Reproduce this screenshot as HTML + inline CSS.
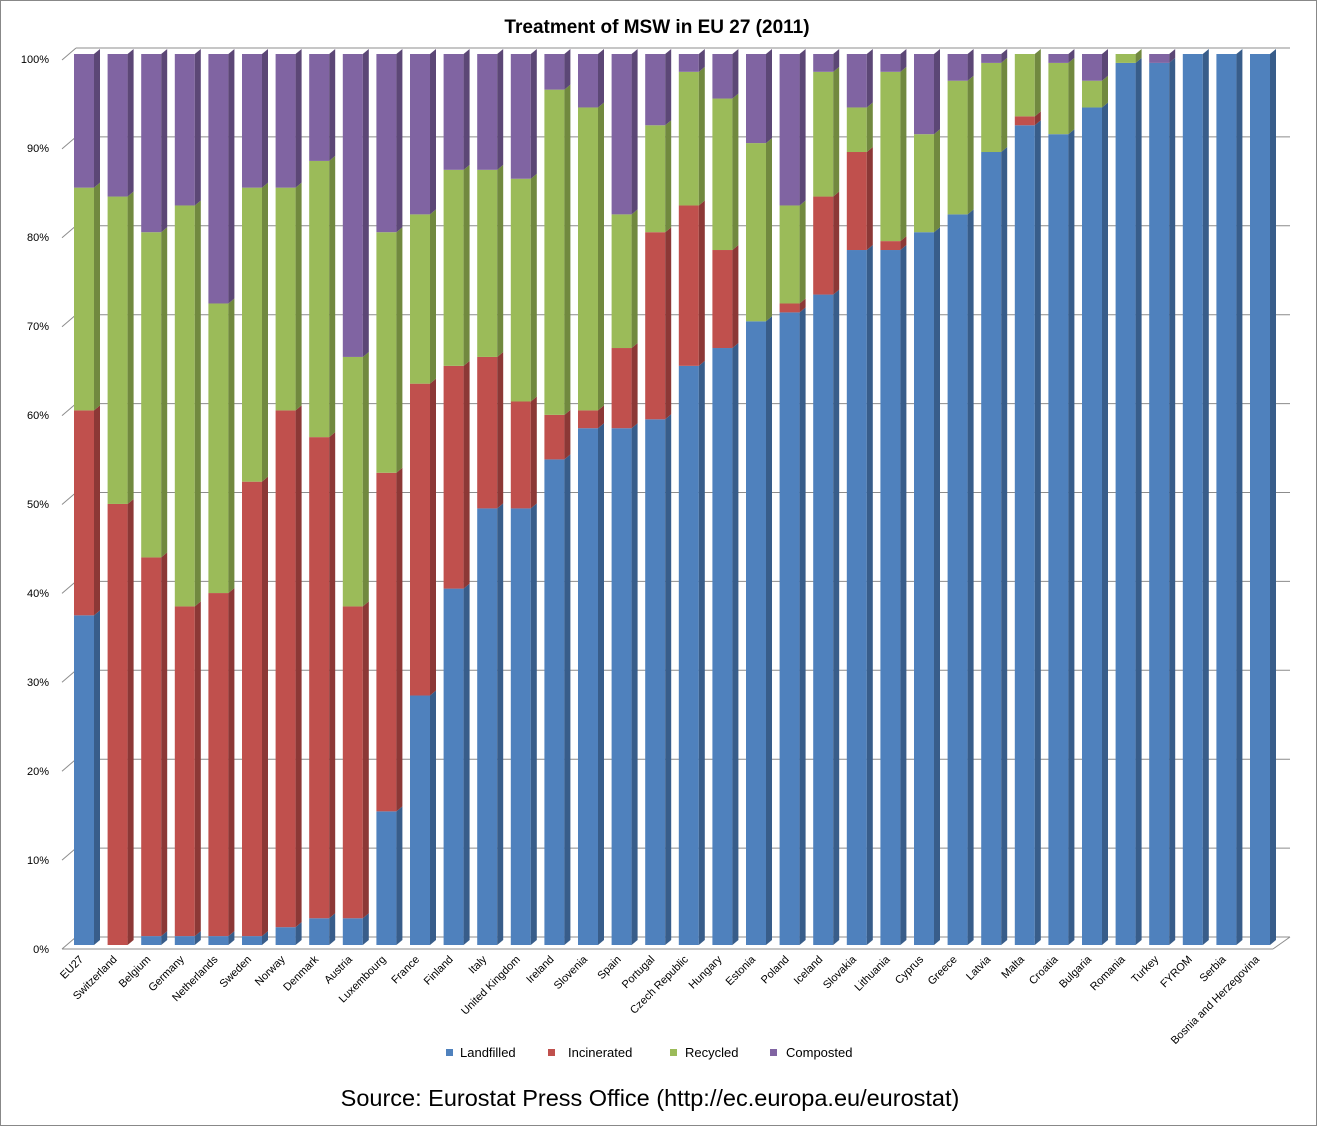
<!DOCTYPE html>
<html><head><meta charset="utf-8"><style>
body{margin:0;background:#fff;}
svg{display:block;font-family:"Liberation Sans",sans-serif;}
</style></head><body>
<svg id="s" width="1317" height="1126" xmlns="http://www.w3.org/2000/svg">
<rect x="0.5" y="0.5" width="1316" height="1125" fill="#fff" stroke="#888"/>
<text x="657" y="33" text-anchor="middle" font-size="19" font-weight="bold">Treatment of MSW in EU 27 (2011)</text>
<g id="grid" stroke="#8c8c8c" stroke-width="1" fill="none"></g>
<g id="bars"></g>
<g font-size="11" text-anchor="end">
<text x="49" y="953">0%</text><text x="49" y="864">10%</text><text x="49" y="775">20%</text><text x="49" y="686">30%</text><text x="49" y="597">40%</text><text x="49" y="508">50%</text><text x="49" y="419">60%</text><text x="49" y="330">70%</text><text x="49" y="241">80%</text><text x="49" y="152">90%</text><text x="49" y="63">100%</text>
</g>
<g font-size="11" text-anchor="end">
<text transform="translate(84,960) rotate(-45)">EU27</text>
<text transform="translate(117.6,960) rotate(-45)">Switzerland</text>
<text transform="translate(151.2,960) rotate(-45)">Belgium</text>
<text transform="translate(184.8,960) rotate(-45)">Germany</text>
<text transform="translate(218.4,960) rotate(-45)">Netherlands</text>
<text transform="translate(252,960) rotate(-45)">Sweden</text>
<text transform="translate(285.6,960) rotate(-45)">Norway</text>
<text transform="translate(319.2,960) rotate(-45)">Denmark</text>
<text transform="translate(352.8,960) rotate(-45)">Austria</text>
<text transform="translate(386.4,960) rotate(-45)">Luxembourg</text>
<text transform="translate(420,960) rotate(-45)">France</text>
<text transform="translate(453.6,960) rotate(-45)">Finland</text>
<text transform="translate(487.2,960) rotate(-45)">Italy</text>
<text transform="translate(520.8,960) rotate(-45)">United Kingdom</text>
<text transform="translate(554.4,960) rotate(-45)">Ireland</text>
<text transform="translate(588,960) rotate(-45)">Slovenia</text>
<text transform="translate(621.6,960) rotate(-45)">Spain</text>
<text transform="translate(655.2,960) rotate(-45)">Portugal</text>
<text transform="translate(688.8,960) rotate(-45)">Czech Republic</text>
<text transform="translate(722.4,960) rotate(-45)">Hungary</text>
<text transform="translate(756,960) rotate(-45)">Estonia</text>
<text transform="translate(789.6,960) rotate(-45)">Poland</text>
<text transform="translate(823.2,960) rotate(-45)">Iceland</text>
<text transform="translate(856.8,960) rotate(-45)">Slovakia</text>
<text transform="translate(890.4,960) rotate(-45)">Lithuania</text>
<text transform="translate(924,960) rotate(-45)">Cyprus</text>
<text transform="translate(957.6,960) rotate(-45)">Greece</text>
<text transform="translate(991.2,960) rotate(-45)">Latvia</text>
<text transform="translate(1024.8,960) rotate(-45)">Malta</text>
<text transform="translate(1058.4,960) rotate(-45)">Croatia</text>
<text transform="translate(1092,960) rotate(-45)">Bulgaria</text>
<text transform="translate(1125.6,960) rotate(-45)">Romania</text>
<text transform="translate(1159.2,960) rotate(-45)">Turkey</text>
<text transform="translate(1192.8,960) rotate(-45)">FYROM</text>
<text transform="translate(1226.4,960) rotate(-45)">Serbia</text>
<text transform="translate(1260,960) rotate(-45)">Bosnia and Herzegovina</text>
</g>
<g font-size="13">
<rect x="446" y="1049" width="7" height="7" fill="#4F81BD"/><text x="460" y="1057">Landfilled</text>
<rect x="548" y="1049" width="7" height="7" fill="#C0504D"/><text x="568" y="1057">Incinerated</text>
<rect x="670" y="1049" width="7" height="7" fill="#9BBB59"/><text x="685" y="1057">Recycled</text>
<rect x="770" y="1049" width="7" height="7" fill="#8064A2"/><text x="786" y="1057">Composted</text>
</g>
<text x="650" y="1106" text-anchor="middle" font-size="23.5">Source: Eurostat Press Office (http://ec.europa.eu/eurostat)</text>
</svg>
<script>
var NS="http://www.w3.org/2000/svg";
function el(p,t,a){var e=document.createElementNS(NS,t);for(var k in a)e.setAttribute(k,a[k]);p.appendChild(e);return e;}
var g=document.getElementById('grid');
for(var i=0;i<=10;i++){var y=937-i*88.9;el(g,'line',{x1:76,y1:y,x2:1290,y2:y});el(g,'line',{x1:62,y1:y+12,x2:76,y2:y});}
el(g,'line',{x1:62,y1:949,x2:1273,y2:949});el(g,'line',{x1:1273,y1:949,x2:1290,y2:937});
var d=[[37,23,25,15],[0,49.5,34.5,16],[1,42.5,36.5,20],[1,37,45,17],[1,38.5,32.5,28],[1,51,33,15],[2,58,25,15],[3,54,31,12],[3,35,28,34],[15,38,27,20],[28,35,19,18],[40,25,22,13],[49,17,21,13],[49,12,25,14],[54.5,5,36.5,4],[58,2,34,6],[58,9,15,18],[59,21,12,8],[65,18,15,2],[67,11,17,5],[70,0,20,10],[71,1,11,17],[73,11,14,2],[78,11,5,6],[78,1,19,2],[80,0,11,9],[82,0,15,3],[89,0,10,1],[92,1,7,0],[91,0,8,1],[94,0,3,3],[99,0,1,0],[99,0,0,1],[100,0,0,0],[100,0,0,0],[100,0,0,0]];
var F=['#4F81BD','#C0504D','#9BBB59','#8064A2'],S=['#385D8A','#8C3836','#71893F','#5C4776'],T=['#7A9FD0','#D67F7D','#B7D184','#9F86BE'];
var b=document.getElementById('bars'),dx=6,dy=5,w=20;
for(var i=0;i<d.length;i++){var x=74+i*33.6,acc=0,top=-1;
for(var k=0;k<4;k++){var v=d[i][k];if(v<=0)continue;var y0=945-acc*8.91,y1=945-(acc+v)*8.91;acc+=v;top=k;
el(b,'rect',{x:x,y:y1,width:w,height:y0-y1,fill:F[k]});
el(b,'polygon',{points:(x+w)+','+y0+' '+(x+w+dx)+','+(y0-dy)+' '+(x+w+dx)+','+(y1-dy)+' '+(x+w)+','+y1,fill:S[k]});
}
if(top>=0){var yt=945-acc*8.91;el(b,'polygon',{points:x+','+yt+' '+(x+dx)+','+(yt-dy)+' '+(x+w+dx)+','+(yt-dy)+' '+(x+w)+','+yt,fill:T[top]});}
}
</script>
</body></html>
